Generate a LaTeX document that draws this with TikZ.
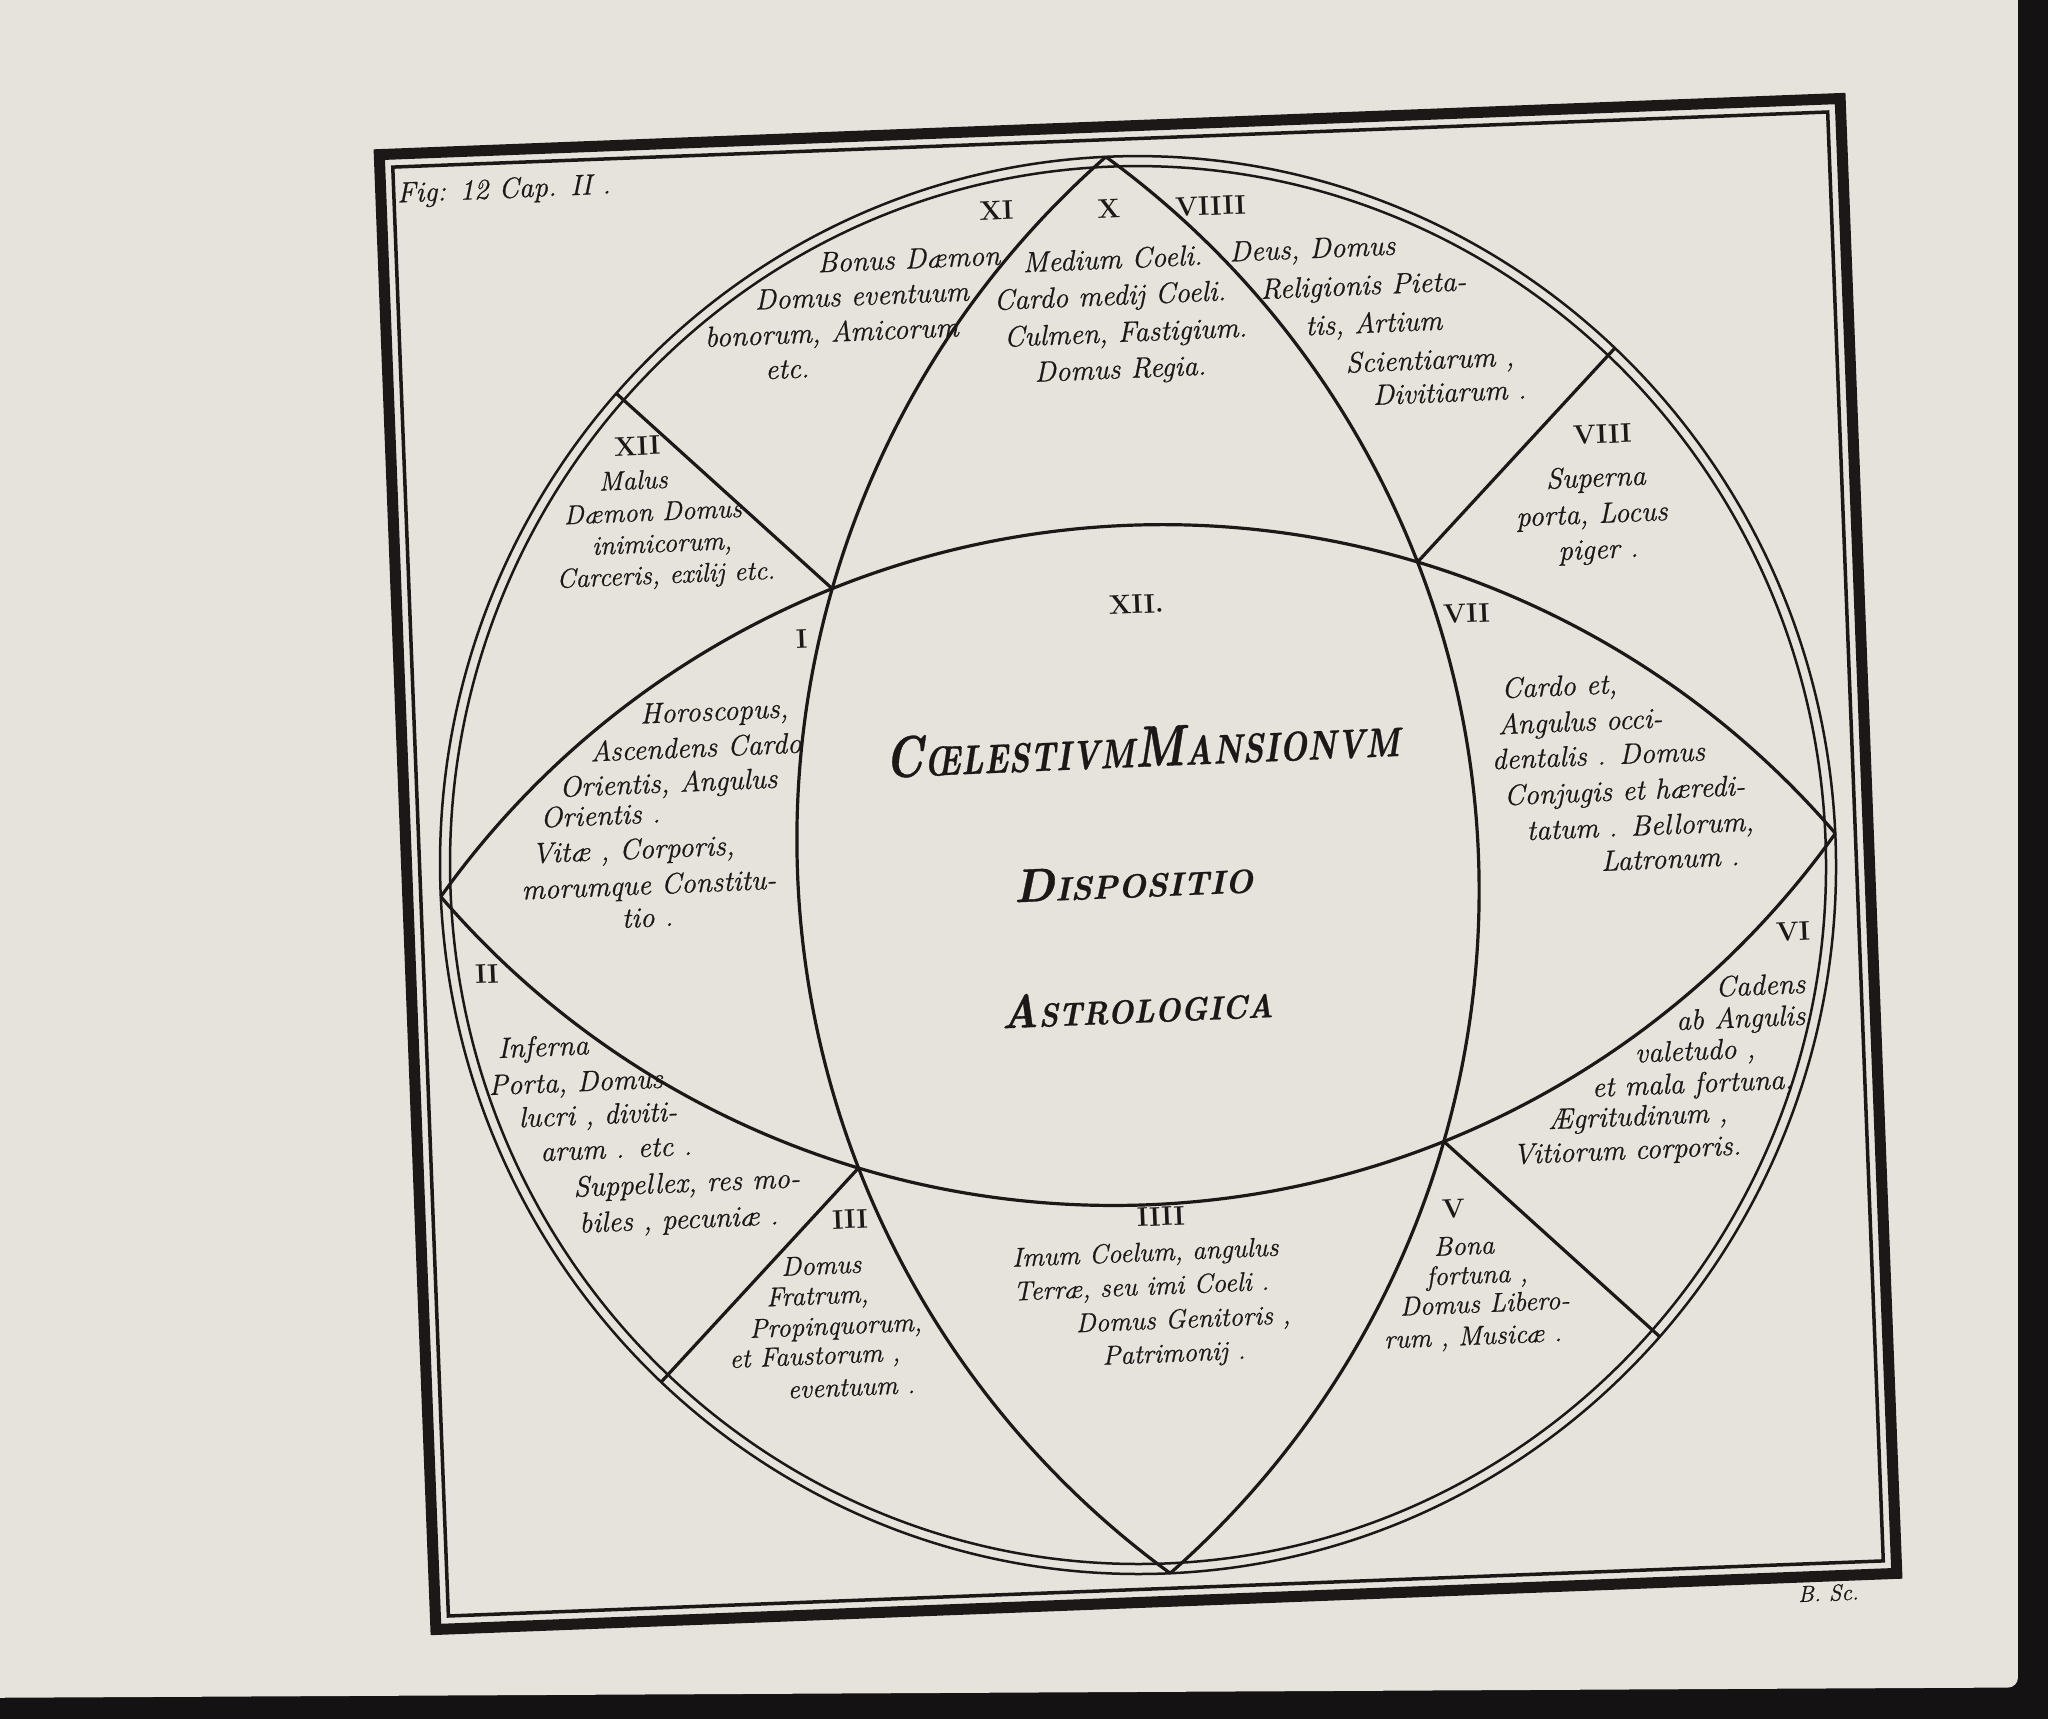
\documentclass[tikz,border=0pt]{standalone}
\usepackage{fontspec}
\newfontfamily\engr{Latin Modern Roman}[FakeBold=0.7]
\definecolor{inkc}{HTML}{1C1817}
\definecolor{paperc}{HTML}{E6E3DC}
\definecolor{edgec}{HTML}{151213}
\tikzset{
  scr/.style={font=\engr\fontsize{29}{29}\selectfont\itshape, text=inkc, inner sep=0pt, anchor=mid, rotate=2.4},
  scrs/.style={font=\engr\fontsize{27}{27}\selectfont\itshape, text=inkc, inner sep=0pt, anchor=mid, rotate=2.4},
  rom/.style={font=\fontsize{27}{27}\selectfont\bfseries, text=inkc, inner sep=0pt, anchor=mid, rotate=2.4},
  ttl/.style={font=\engr\bfseries\itshape, text=inkc, inner sep=0pt, anchor=base, rotate=2.4},
  fine/.style={draw=inkc, line width=3.2pt},
  dbl/.style={draw=inkc, line width=2.5pt},
}
\newcommand\TitBig[1]{{\fontsize{58}{58}\selectfont #1}}
\newcommand\TitSm[1]{{\fontsize{41}{41}\selectfont #1}}
\newcommand\SubBig[1]{{\fontsize{47}{47}\selectfont #1}}
\newcommand\SubSm[1]{{\fontsize{33}{33}\selectfont #1}}
\begin{document}
\begin{tikzpicture}[x=1.30612pt,y=-1.30612pt]
\useasboundingbox (0,0) rectangle (1568,1316.1);
\fill[edgec] (0,0) rectangle (1568,1316.1);
\fill[paperc, rounded corners=10pt] (-30,-30) -- (1545,-30) -- (1545,1292) -- (-30,1300) -- cycle;

% frame
\begin{scope}[shift={(871.3,661.5)}, x=1pt, y=1pt, rotate=2.2]
  \draw[draw=inkc, line width=11pt] (-731,-738) rectangle (731,738);
  \draw[draw=inkc, line width=3.5pt] (-718,-725) rectangle (718,725);
\end{scope}

% diagram
\begin{scope}[shift={(871.3,662.3)}, x=1pt, y=1pt, rotate=2.6]
  \coordinate (L) at (-698,0);
  \coordinate (R) at (698,0);
  \coordinate (T) at (0,709);
  \coordinate (B) at (0,-709);
  \coordinate (P1) at (-293,290);
  \coordinate (P2) at (293,290);
  \coordinate (P3) at (-293,-290);
  \coordinate (P4) at (293,-290);
  \coordinate (E1) at (-500,495);
  \coordinate (E2) at (500,495);
  \coordinate (E3) at (-500,-495);
  \coordinate (E4) at (500,-495);
  \draw[dbl] (0,0) ellipse [x radius=698, y radius=709];
  \draw[dbl] (0,0) ellipse [x radius=688, y radius=699];
  \draw[fine] (L) arc[start angle=141.92, end angle=38.08, radius=886.8];
  \draw[fine] (L) arc[start angle=218.08, end angle=321.92, radius=886.8];
  \draw[fine] (T) arc[start angle=128.69, end angle=231.31, radius=908.34];
  \draw[fine] (T) arc[start angle=51.31, end angle=-51.31, radius=908.34];
  \draw[fine] (P1) -- (E1);
  \draw[fine] (P2) -- (E2);
  \draw[fine] (P3) -- (E3);
  \draw[fine] (P4) -- (E4);
\end{scope}

\begin{scope}[yshift=-6.5pt]
% figure caption and signature
\node[scr] (fig) at (386,145) {Fig: 12 Cap. II .};
\node[scr, font=\engr\fontsize{23}{23}\selectfont\itshape] (sig) at (1400,1219) {B. Sc.};

% roman numerals
\node[rom] (nXI) at (763,162) {XI};
\node[rom] (nX) at (849,160) {X};
\node[rom] (nVIIII) at (927,158) {VIIII};
\node[rom] (nXII) at (488,342) {XII};
\node[rom] (nVIII) at (1227,333) {VIII};
\node[rom] (nI) at (614,490) {I};
\node[rom] (nC) at (870,463) {XII.};
\node[rom] (nVII) at (1123,470) {VII};
\node[rom] (nII) at (373,746) {II};
\node[rom] (nVI) at (1373,714) {VI};
\node[rom] (nIII) at (651,934) {III};
\node[rom] (nIIII) at (889,932) {IIII};
\node[rom] (nV) at (1113,926) {V};

% XI
\node[scr] (a1) at (696,199) {Bonus Dæmon};
\node[scr] (a2) at (660,227) {Domus eventuum};
\node[scr] (a3) at (637,255) {bonorum, Amicorum};
\node[scr] (a4) at (603,283) {etc.};
% X
\node[scr] (b1) at (852,199) {Medium Coeli.};
\node[scr] (b2) at (850,227) {Cardo medij Coeli.};
\node[scr] (b3) at (862,255) {Culmen, Fastigium.};
\node[scr] (b4) at (858,283) {Domus Regia.};
% VIIII
\node[scr] (c1) at (1005,191) {Deus, Domus};
\node[scr] (c2) at (1044,219) {Religionis Pieta-};
\node[scr] (c3) at (1052,248) {tis, Artium};
\node[scr] (c4) at (1095,276) {Scientiarum ,};
\node[scr] (c5) at (1110,301) {Divitiarum .};
% VIII
\node[scr] (d1) at (1222,366) {Superna};
\node[scr] (d2) at (1219,394) {porta, Locus};
\node[scr] (d3) at (1224,421) {piger .};
% XII
\node[scrs] (e1) at (485,368) {Malus};
\node[scrs] (e2) at (500,392) {Dæmon Domus};
\node[scrs] (e3) at (507,416) {inimicorum,};
\node[scrs] (e4) at (510,440) {Carceris, exilij etc.};
% I
\node[scr] (f1) at (547,545) {Horoscopus,};
\node[scr] (f2) at (533,573) {Ascendens Cardo};
\node[scr] (f3) at (512,600) {Orientis, Angulus};
\node[scr] (f4) at (460,625) {Orientis .};
\node[scr] (f5) at (485,651) {Vitæ , Corporis,};
\node[scr] (f6) at (497,678) {morumque Constitu-};
\node[scr] (f7) at (496,703) {tio .};
% VII
\node[scr] (g1) at (1194,526) {Cardo et,};
\node[scr] (g2) at (1210,553) {Angulus occi-};
\node[scr] (g3) at (1224,579) {dentalis . Domus};
\node[scr] (g4) at (1244,606) {Conjugis et hæredi-};
\node[scr] (g5) at (1256,633) {tatum . Bellorum,};
\node[scr] (g6) at (1279,658) {Latronum .};
% II
\node[scr] (h1) at (416,802) {Inferna};
\node[scr] (h2) at (441,829) {Porta, Domus};
\node[scr] (h3) at (458,854) {lucri , diviti-};
\node[scr] (h4) at (472,880) {arum . etc .};
\node[scr] (h5) at (526,906) {Suppellex, res mo-};
\node[scr] (h6) at (520,934) {biles , pecuniæ .};
% VI
\node[scr] (i1) at (1348,755) {Cadens};
\node[scr] (i2) at (1333,780) {ab Angulis};
\node[scr] (i3) at (1298,805) {valetudo ,};
\node[scr] (i4) at (1296,830) {et mala fortuna,};
\node[scr] (i5) at (1254,855) {Ægritudinum ,};
\node[scr] (i6) at (1246,881) {Vitiorum corporis.};
% III
\node[scrs] (j1) at (629,969) {Domus};
\node[scrs] (j2) at (626,992) {Fratrum,};
\node[scrs] (j3) at (640,1015) {Propinquorum,};
\node[scrs] (j4) at (624,1038) {et Faustorum ,};
\node[scrs] (j5) at (652,1062) {eventuum .};
% IIII
\node[scrs] (k1) at (877,959) {Imum Coelum, angulus};
\node[scrs] (k2) at (874,985) {Terræ, seu imi Coeli .};
\node[scrs] (k3) at (906,1010) {Domus Genitoris ,};
\node[scrs] (k4) at (899,1036) {Patrimonij .};
% V
\node[scrs] (l1) at (1121,954) {Bona};
\node[scrs] (l2) at (1131,976) {fortuna ,};
\node[scrs] (l3) at (1137,998) {Domus Libero-};
\node[scrs] (l4) at (1128,1023) {rum , Musicæ .};
\end{scope}

% title
\node[ttl] (t1) at (875,587) {\scalebox{0.8}[1]{\TitBig{C}\TitSm{ŒLESTIVM}\TitBig{M}\TitSm{ANSIONVM}}};
\node[ttl] (t2) at (868,687) {\SubBig{D}\SubSm{ISPOSITIO}};
\node[ttl] (t3) at (871,783) {\scalebox{0.92}[1]{\SubBig{A}\SubSm{STROLOGICA}}};
\end{tikzpicture}
\end{document}
